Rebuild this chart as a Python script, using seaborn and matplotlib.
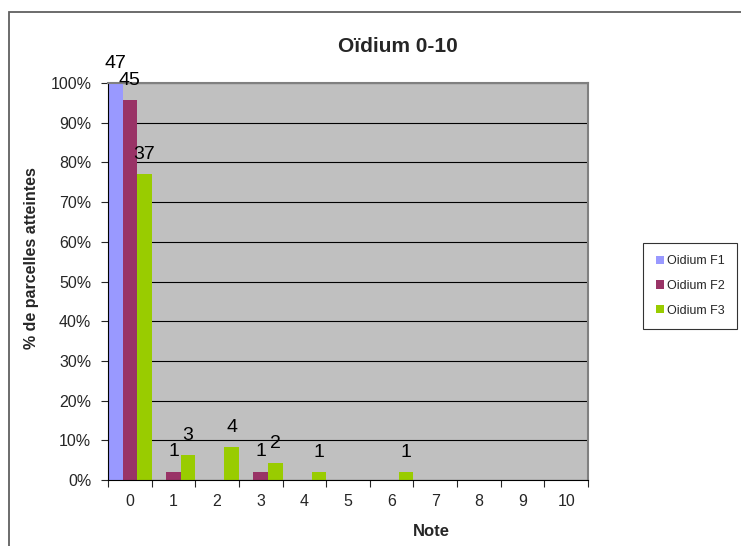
import matplotlib
matplotlib.use("Agg")
import matplotlib.pyplot as plt
import matplotlib.patches as mpatches
import seaborn as sns
import pandas as pd
import numpy as np

notes = ["0", "1", "2", "3", "4", "5", "6", "7", "8", "9", "10"]
series = ["Oidium F1", "Oidium F2", "Oidium F3"]
f1_counts = [47, 0, 0, 0, 0, 0, 0, 0, 0, 0, 0]
f2_counts = [45, 1, 0, 1, 0, 0, 0, 0, 0, 0, 0]
f3_counts = [37, 3, 4, 2, 1, 0, 1, 0, 0, 0, 0]
colors = ["#9999FF", "#993366", "#99CC00"]
yticks = [0, 10, 20, 30, 40, 50, 60, 70, 80, 90, 100]

rows = []
for s, counts in zip(series, [f1_counts, f2_counts, f3_counts]):
    total = sum(counts)
    for n, c in zip(notes, counts):
        rows.append({"Note": n, "Serie": s, "count": c, "pct": 100.0 * c / total})
df = pd.DataFrame(rows)

sns.set_style("white")
plt.rcParams["font.family"] = ["Liberation Sans", "DejaVu Sans"]

W, H = 741, 546
fig = plt.figure(figsize=(W / 100, H / 100), dpi=100)
ax = fig.add_axes([108 / W, (H - 480) / H, 480 / W, 397 / H])
ax.set_facecolor("#C0C0C0")

sns.barplot(data=df, x="Note", y="pct", hue="Serie", order=notes,
            hue_order=series, palette=colors, width=1.0, gap=0,
            saturation=1, linewidth=0, ax=ax, legend=False, errorbar=None)

for cont, s in zip(ax.containers, series):
    sub = df[df["Serie"] == s].set_index("Note").loc[notes]
    labels = [str(c) if c > 0 else "" for c in sub["count"]]
    ax.bar_label(cont, labels=labels, padding=8, fontsize=14, color="black")

ax.set_ylim(0, 100)
ax.set_xlim(-0.5, 10.5)
ax.set_yticks(yticks)
ax.set_yticklabels([f"{v}%" for v in yticks], fontsize=11.5)
ax.yaxis.grid(True, color="black", linewidth=0.8)
ax.set_axisbelow(True)
ax.tick_params(axis="y", length=5, width=0.8, direction="out", left=True, pad=7)
ax.set_xticks(range(len(notes)))
ax.set_xticklabels(notes, fontsize=11.5)
ax.set_xticks(np.arange(-0.5, 11, 1), minor=True)
ax.tick_params(axis="x", which="major", length=0, pad=10)
ax.tick_params(axis="x", which="minor", length=5, width=0.8, direction="out", bottom=True)
ax.set_xlabel("")
ax.set_ylabel("")
for side in ["top", "right"]:
    ax.spines[side].set_visible(True)
    ax.spines[side].set_color("#808080")
    ax.spines[side].set_linewidth(1.5)
for side in ["left", "bottom"]:
    ax.spines[side].set_color("black")
    ax.spines[side].set_linewidth(0.8)

fig.text(397.5 / W, 1 - 47 / H, "Oïdium 0-10", ha="center", va="center",
         fontsize=15, fontweight="bold")
fig.text(32 / W, 1 - 258 / H, "% de parcelles atteintes", ha="center", va="center",
         rotation=90, fontsize=11.5, fontweight="bold")
fig.text(431 / W, 1 - 531 / H, "Note", ha="center", va="center",
         fontsize=12, fontweight="bold")

handles = [mpatches.Patch(facecolor=c, edgecolor="none", label=s) for c, s in zip(colors, series)]
leg = fig.legend(handles=handles, loc="upper left",
                 bbox_to_anchor=(643 / W, 1 - 243 / H), bbox_transform=fig.transFigure,
                 fontsize=9, frameon=True, fancybox=False, labelspacing=1.0,
                 handlelength=0.65, handleheight=0.65, handletextpad=0.25,
                 borderpad=1.0, borderaxespad=0)
leg.get_frame().set_edgecolor("black")
leg.get_frame().set_linewidth(0.8)

fig.patches.append(mpatches.Rectangle((8.5 / W, -0.05), 1.0, 1 - 12 / H + 0.05,
                                      transform=fig.transFigure, fill=False,
                                      edgecolor="#606060", linewidth=1.3))

fig.savefig("out.png", dpi=100)
